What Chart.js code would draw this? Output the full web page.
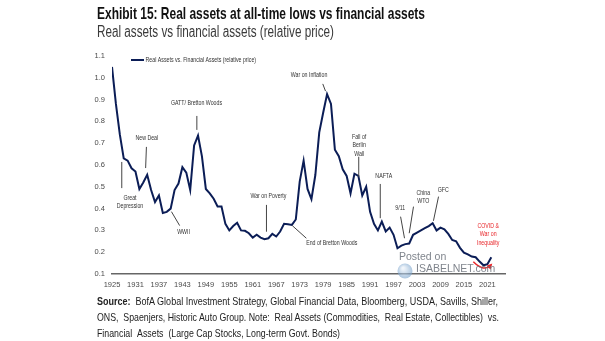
<!DOCTYPE html>
<html>
<head>
<meta charset="utf-8">
<script src="https://cdn.jsdelivr.net/npm/chart.js@4.4.1/dist/chart.umd.min.js"></script>
<style>
  html, body { margin: 0; padding: 0; background: #fff; }
  #wrap { position: relative; width: 605px; height: 341px; overflow: hidden; }
  #chart { position: absolute; left: 0; top: 0; }
  .txt { position: absolute; white-space: nowrap; transform-origin: 0 50%; line-height: 1; color: #222; }
</style>
</head>
<body>
<div id="wrap">
  <canvas id="chart" width="605" height="341"></canvas>
  <div class="txt" id="title" data-w="328" style="left:97px;top:5px;font-size:17px;font-weight:bold;color:#111;">Exhibit 15: Real assets at all-time lows vs financial assets</div>
  <div class="txt" id="sub" data-w="237" style="left:97px;top:24px;font-size:16px;color:#3a3a3a;">Real assets vs financial assets (relative price)</div>
  <div class="txt" id="src1" data-w="401" style="left:97px;top:296px;font-size:11.5px;"><b>Source:</b>&nbsp; BofA Global Investment Strategy, Global Financial Data, Bloomberg, USDA, Savills, Shiller,</div>
  <div class="txt" id="src2" data-w="402" style="left:97px;top:312px;font-size:11.5px;">ONS, &nbsp;Spaenjers, Historic Auto Group. Note: &nbsp;Real Assets (Commodities, &nbsp;Real Estate, Collectibles) &nbsp;vs.</div>
  <div class="txt" id="src3" data-w="243" style="left:97px;top:328px;font-size:11.5px;">Financial &nbsp;Assets &nbsp;(Large Cap Stocks, Long-term Govt. Bonds)</div>
</div>
<script>
// ---- data -------------------------------------------------------------
const years = [
  1925, 1926, 1927, 1928, 1929, 1930, 1931, 1932, 1933, 1934,
  1935, 1936, 1937, 1938, 1939, 1940, 1941, 1942, 1943, 1944,
  1945, 1946, 1947, 1948, 1949, 1950, 1951, 1952, 1953, 1954,
  1955, 1956, 1957, 1958, 1959, 1960, 1961, 1962, 1963, 1964,
  1965, 1966, 1967, 1968, 1969, 1970, 1971, 1972, 1973, 1974,
  1975, 1976, 1977, 1978, 1979, 1980, 1981, 1982, 1983, 1984,
  1985, 1986, 1987, 1988, 1989, 1990, 1991, 1992, 1993, 1994,
  1995, 1996, 1997, 1998, 1999, 2000, 2001, 2002, 2003, 2004,
  2005, 2006, 2007, 2008, 2009, 2010, 2011, 2012, 2013, 2014,
  2015, 2016, 2017, 2018, 2019, 2020, 2021, 2022
];

// Real assets vs financial assets, relative price
const relativePrice = [
  1.05, 0.88, 0.74, 0.63, 0.62, 0.585, 0.57, 0.49, 0.52, 0.555,
  0.485, 0.43, 0.46, 0.38, 0.385, 0.40, 0.485, 0.515, 0.59, 0.565,
  0.485, 0.69, 0.735, 0.64, 0.49, 0.47, 0.445, 0.41, 0.41, 0.33,
  0.30, 0.32, 0.335, 0.30, 0.298, 0.287, 0.267, 0.28, 0.267, 0.26,
  0.264, 0.284, 0.272, 0.295, 0.33, 0.328, 0.325, 0.35, 0.524, 0.62,
  0.49, 0.443, 0.554, 0.75, 0.84, 0.925, 0.88, 0.67, 0.64, 0.58,
  0.55, 0.47, 0.56, 0.55, 0.46, 0.50, 0.385, 0.33, 0.30, 0.34,
  0.295, 0.313, 0.28, 0.218, 0.23, 0.237, 0.24, 0.28, 0.29, 0.30,
  0.31, 0.32, 0.333, 0.30, 0.313, 0.305, 0.284, 0.256, 0.25, 0.22,
  0.198, 0.19, 0.18, 0.177, 0.157, 0.14, 0.145, 0.177
];

const xTickYears = [1925, 1931, 1937, 1943, 1949, 1955, 1961, 1967, 1973, 1979, 1985, 1991, 1997, 2003, 2009, 2015, 2021];
const yTickValues = [0.1, 0.2, 0.3, 0.4, 0.5, 0.6, 0.7, 0.8, 0.9, 1.0, 1.1];

const seriesLabel = 'Real Assets vs. Financial Assets (relative price)';

// Event call-outs: text anchor and leader line, in (year, value) units
const events = [
  { text: ['Great', 'Depression'], at: [1929.6, 0.449], lead: [1927.5, 0.614, 1927.5, 0.494] },
  { text: ['New Deal'], at: [1933.9, 0.724], lead: [1933.8, 0.683, 1933.6, 0.586] },
  { text: ['WWII'], at: [1943.3, 0.293], lead: [1940.2, 0.386, 1942.3, 0.322] },
  { text: ['GATT/ Bretton Woods'], at: [1946.6, 0.884], lead: [1946.7, 0.825, 1946.7, 0.761] },
  { text: ['War on Poverty'], at: [1965.0, 0.458], lead: [1964.5, 0.417, 1964.5, 0.294] },
  { text: ['End of Bretton Woods'], at: [1981.2, 0.244], lead: [1971.1, 0.322, 1974.7, 0.264] },
  { text: ['War on Inflation'], at: [1975.4, 1.013], lead: [1978.9, 0.972, 1979.6, 0.939] },
  { text: ['Fall of', 'Berlin', 'Wall'], at: [1988.2, 0.730], lead: [1988.1, 0.638, 1988.1, 0.546] },
  { text: ['NAFTA'], at: [1994.5, 0.550], lead: [1993.6, 0.513, 1993.6, 0.356] },
  { text: ['9/11'], at: [1998.7, 0.401], lead: [1998.8, 0.363, 1999.8, 0.264] },
  { text: ['China', 'WTO'], at: [2004.6, 0.473], lead: [2002.1, 0.409, 2001.0, 0.287] },
  { text: ['GFC'], at: [2009.7, 0.485], lead: [2008.5, 0.455, 2007.2, 0.344] },
  { text: ['COVID &', 'War on', 'Inequality'], at: [2021.2, 0.322], color: '#e8262a' }
];
// red rebound arrow: start, lowest point, tip
const reboundArrow = [[2017.4, 0.156], [2019.9, 0.128], [2021.9, 0.141]];

// ---- fonts ------------------------------------------------------------
function hasFont(name) {
  const c = document.createElement('canvas').getContext('2d');
  const t = 'abcdefghijklmnopqrstuvwxyzABCDEFGHIJ0123456789';
  c.font = '40px monospace';
  const a = c.measureText(t).width;
  c.font = '40px "' + name + '", monospace';
  return Math.abs(c.measureText(t).width - a) > 0.5;
}
const narrowOK = hasFont('Liberation Sans Narrow');
const FAMILY = narrowOK ? '"Liberation Sans Narrow", "Liberation Sans", sans-serif' : '"Liberation Sans", sans-serif';
const SQUEEZE = narrowOK ? 0.92 : 0.75;

document.querySelectorAll('.txt').forEach(el => {
  el.style.fontFamily = FAMILY;
  const target = parseFloat(el.dataset.w);
  const w = el.getBoundingClientRect().width;
  el.style.transform = 'scaleX(' + (target / w) + ')';
});

const NAVY = '#0b1d56';

function squeezedText(ctx, str, x, y, size, color, align, weight) {
  ctx.save();
  ctx.font = (weight || 'normal') + ' ' + size + 'px ' + FAMILY;
  ctx.fillStyle = color;
  ctx.textAlign = align || 'center';
  ctx.textBaseline = 'middle';
  ctx.translate(x, y);
  ctx.scale(SQUEEZE, 1);
  ctx.fillText(str, 0, 0);
  ctx.restore();
}

// ---- call-outs, legend and marks drawn on top of the line ----------------
const overlay = {
  id: 'overlay',
  afterDatasetsDraw(chart) {
    const { ctx, scales: { x, y } } = chart;
    const px = v => x.getPixelForValue(v);
    const py = v => y.getPixelForValue(v);

    // legend
    ctx.save();
    ctx.strokeStyle = NAVY;
    ctx.lineWidth = 2;
    ctx.beginPath();
    ctx.moveTo(131, 60);
    ctx.lineTo(144, 60);
    ctx.stroke();
    ctx.restore();
    squeezedText(ctx, seriesLabel, 145.5, 60, 7, '#333', 'left');

    // events
    events.forEach(ev => {
      if (ev.lead) {
        ctx.save();
        ctx.strokeStyle = '#444';
        ctx.lineWidth = 1;
        ctx.beginPath();
        ctx.moveTo(px(ev.lead[0]), py(ev.lead[1]));
        ctx.lineTo(px(ev.lead[2]), py(ev.lead[3]));
        ctx.stroke();
        ctx.restore();
      }
      const cx = px(ev.at[0]);
      const cy = py(ev.at[1]);
      ev.text.forEach((line, i) => {
        squeezedText(ctx, line, cx, cy + i * 8.5, 7, ev.color || '#333', 'center');
      });
    });

    // red rebound arrow
    const p0 = [px(reboundArrow[0][0]), py(reboundArrow[0][1])];
    const pm = [px(reboundArrow[1][0]), py(reboundArrow[1][1])];
    const p2 = [px(reboundArrow[2][0]), py(reboundArrow[2][1])];
    const cp = [2 * pm[0] - (p0[0] + p2[0]) / 2, 2 * pm[1] - (p0[1] + p2[1]) / 2];
    ctx.save();
    ctx.strokeStyle = '#e8262a';
    ctx.fillStyle = '#e8262a';
    ctx.lineWidth = 1.5;
    ctx.beginPath();
    ctx.moveTo(p0[0], p0[1]);
    ctx.quadraticCurveTo(cp[0], cp[1], p2[0], p2[1]);
    ctx.stroke();
    const ang = Math.atan2(p2[1] - cp[1], p2[0] - cp[0]);
    ctx.translate(p2[0], p2[1]);
    ctx.rotate(ang);
    ctx.beginPath();
    ctx.moveTo(2, 0);
    ctx.lineTo(-3.5, -2.8);
    ctx.lineTo(-3.5, 2.8);
    ctx.closePath();
    ctx.fill();
    ctx.restore();

    // site stamp
    ctx.save();
    ctx.globalAlpha = 0.6;
    const g = ctx.createRadialGradient(403, 268, 1, 405, 271, 8);
    g.addColorStop(0, '#e6eef7');
    g.addColorStop(1, '#6f9cc8');
    ctx.fillStyle = g;
    ctx.beginPath();
    ctx.arc(405, 271, 7.5, 0, Math.PI * 2);
    ctx.fill();
    ctx.restore();
    ctx.save();
    ctx.font = '10.5px "Liberation Sans", sans-serif';
    ctx.fillStyle = 'rgba(105,110,120,0.85)';
    ctx.textBaseline = 'middle';
    ctx.fillText('Posted on', 399, 257);
    ctx.fillText('ISABELNET.com', 416, 269.5);
    ctx.restore();
  }
};

new Chart(document.getElementById('chart'), {
  type: 'line',
  data: {
    datasets: [{
      label: seriesLabel,
      data: years.map((yr, i) => ({ x: yr, y: relativePrice[i] })),
      borderColor: NAVY,
      borderWidth: 2,
      pointRadius: 0,
      tension: 0,
      fill: false
    }]
  },
  options: {
    responsive: false,
    animation: false,
    events: [],
    layout: { padding: { left: 0, top: 56, right: 100, bottom: 0 } },
    plugins: { legend: { display: false }, tooltip: { enabled: false } },
    scales: {
      x: {
        type: 'linear',
        min: 1925,
        max: 2025.5,
        afterBuildTicks: s => { s.ticks = xTickYears.map(v => ({ value: v })); },
        afterFit: s => { s.height = 67; },
        grid: { display: false, drawTicks: false },
        border: { display: true, color: '#666', width: 1.5 },
        ticks: {
          autoSkip: false, maxRotation: 0, padding: 6, color: '#4a4a4a',
          font: { family: FAMILY, size: 7.5 },
          callback: v => String(v)
        }
      },
      y: {
        min: 0.1,
        max: 1.1,
        afterBuildTicks: s => { s.ticks = yTickValues.map(v => ({ value: v })); },
        afterFit: s => { s.width = 112; },
        grid: { display: false, drawTicks: false },
        border: { display: false },
        ticks: {
          padding: 7, color: '#4a4a4a',
          font: { family: FAMILY, size: 7.5 },
          callback: v => Number(v).toFixed(1)
        }
      }
    }
  },
  plugins: [overlay]
});
</script>
</body>
</html>
